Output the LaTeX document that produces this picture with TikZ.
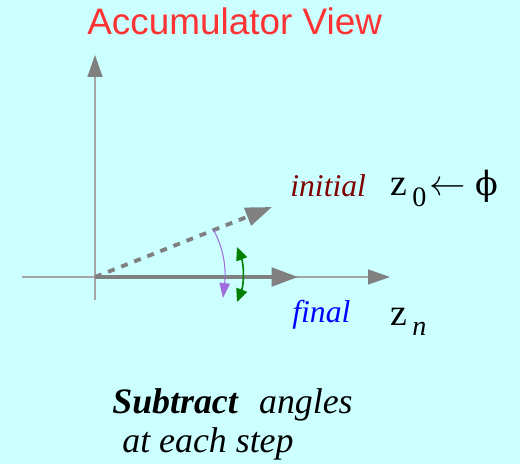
\documentclass[tikz,border=0pt]{standalone}
\usepackage{fontspec}
\setmainfont{Liberation Serif}
\newfontfamily\titlefont{Liberation Sans}
\newfontfamily\phifont{DejaVu Serif}
\usetikzlibrary{arrows.meta,calc}
\usepackage{tkz-euclide}
\definecolor{BackClr}{RGB}{204,255,255}
\definecolor{TitleClr}{RGB}{255,51,51}
\definecolor{AxisClr}{RGB}{165,165,165}
\definecolor{VecClr}{RGB}{128,128,128}
\definecolor{InitClr}{RGB}{128,0,0}
\definecolor{FinClr}{RGB}{0,0,255}
\definecolor{RotClr}{RGB}{160,110,220}
\definecolor{SwingClr}{RGB}{0,128,0}

\begin{document}
\begin{tikzpicture}[x=0.02cm,y=-0.02cm,
  axis/.style={line width=0.9pt,color=AxisClr,-{Triangle[length=12.5pt,width=8.5pt,color=VecClr]}},
  vector/.style={line width=2.2pt,color=VecClr,-{Triangle[length=15pt,width=10.5pt]}},
  label/.style={anchor=base west,inner sep=0pt}]
\fill[BackClr] (0,0) rectangle (520,464);
\useasboundingbox (0,0) rectangle (520,464);

\tkzDefPoints{95/277/O,95/55/Yt,95/300/Yb,22/277/Xl,390/277/Xt,298/277/F,272/207/I}
\tkzDefPoints{213/229/P,223/298/Q,237/247/G,237/302/H}

\draw[axis] (Yb) -- (Yt);
\draw[axis] (Xl) -- (Xt);
\draw[vector] (O) -- (F);
\draw[vector,dash pattern=on 4pt off 4pt] (O) -- (I);

\draw[line width=0.6pt,color=RotClr,-{Triangle[length=8.5pt,width=6pt]}]
  (P) .. controls (225,250) and (226,272) .. (Q);
\draw[line width=0.9pt,color=SwingClr,{Triangle[length=7.5pt,width=6.5pt]}-{Triangle[length=7.5pt,width=6.5pt]}]
  (G) .. controls (244,265) and (244,284) .. (H);

\node[label,text=TitleClr,font=\titlefont\fontsize{21}{25}\selectfont] (title) at (87,34) {Accumulator View};

\node[label,text=InitClr,font=\itshape\fontsize{18}{22}\selectfont] (initial) at (290,196) {initial};
\node[label,text=FinClr,font=\itshape\fontsize{18}{22}\selectfont] (final) at (292,322) {final};

\node[label,font=\fontsize{21.5}{25}\selectfont] (z0) at (390,195)
  {z\hspace{3pt}\raisebox{-6.8pt}{\fontsize{16}{16}\selectfont 0}\hspace{2pt}$\leftarrow$\hspace{5pt}{\phifont\fontsize{19}{22}\selectfont ϕ}};
\node[label,font=\fontsize{21.5}{25}\selectfont] (zn) at (390,325)
  {z\hspace{3pt}\raisebox{-5.7pt}{\fontsize{16}{16}\selectfont\itshape n}};

\node[label,font=\itshape\fontsize{20.4}{24}\selectfont] (sub1) at (112,413)
  {\bfseries Subtract\mdseries\hspace{7pt} angles};
\node[label,font=\itshape\fontsize{20.4}{24}\selectfont] (sub2) at (122,452) {at each step};

\end{tikzpicture}
\end{document}
